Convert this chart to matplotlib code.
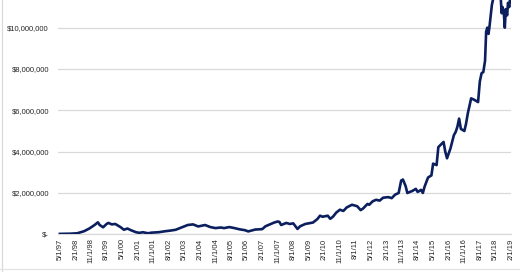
import matplotlib
matplotlib.use("Agg")
import matplotlib.pyplot as plt
import matplotlib.ticker as mticker
from matplotlib.lines import Line2D
import pandas as pd

# ---- data (portfolio value, $ millions) ----
dates = [
    "1997-05-01", "1997-11-01", "1998-03-01", "1998-07-01", "1998-10-01",
    "1999-01-01", "1999-03-01", "1999-04-01", "1999-06-01", "1999-08-01",
    "1999-09-01", "1999-11-01", "2000-01-01", "2000-04-01", "2000-06-01",
    "2000-08-01", "2000-10-01", "2001-01-01", "2001-03-01", "2001-05-01",
    "2001-08-01", "2001-10-01", "2002-02-01", "2002-06-01", "2002-09-01",
    "2002-12-01", "2003-04-01", "2003-07-01", "2003-10-01", "2004-01-01",
    "2004-05-01", "2004-08-01", "2004-11-01", "2005-02-01", "2005-04-01",
    "2005-07-01", "2005-10-01", "2006-01-01", "2006-04-01", "2006-06-01",
    "2006-10-01", "2007-02-01", "2007-04-01", "2007-07-01", "2007-09-01",
    "2007-11-01", "2007-12-01", "2008-01-01", "2008-04-01", "2008-06-01",
    "2008-08-01", "2008-09-01", "2008-10-15", "2008-12-01", "2009-03-01",
    "2009-06-01", "2009-07-15", "2009-10-01", "2009-11-15", "2010-01-01",
    "2010-04-01", "2010-05-15", "2010-07-01", "2010-09-01", "2010-11-01",
    "2011-01-01", "2011-03-01", "2011-06-01", "2011-09-01", "2011-11-01",
    "2011-12-15", "2012-03-01", "2012-04-01", "2012-06-01", "2012-08-01",
    "2012-10-01", "2012-12-01", "2013-03-01", "2013-05-01", "2013-07-01",
    "2013-09-01", "2013-10-15", "2013-11-15", "2014-01-01", "2014-02-01",
    "2014-05-01", "2014-07-01", "2014-08-01", "2014-10-01", "2014-11-01",
    "2014-12-01", "2015-02-01", "2015-04-01", "2015-05-01", "2015-07-01",
    "2015-08-01", "2015-11-01", "2015-12-01", "2016-01-01", "2016-03-01",
    "2016-05-01", "2016-06-01", "2016-07-01", "2016-08-01", "2016-09-01",
    "2016-11-01", "2016-12-01", "2017-01-01", "2017-03-01", "2017-05-01",
    "2017-07-01", "2017-08-01", "2017-09-01", "2017-10-01", "2017-11-01",
    "2017-11-20", "2017-12-10", "2018-01-01", "2018-01-20", "2018-03-01",
    "2018-04-01", "2018-06-01", "2018-08-01", "2018-08-20", "2018-09-05",
    "2018-09-30", "2018-10-15", "2018-11-01", "2018-11-25", "2018-12-10",
    "2019-01-01", "2019-01-20",
]
values_m = [
    0.02, 0.03, 0.05, 0.15, 0.28,
    0.45, 0.58, 0.45, 0.34, 0.50,
    0.55, 0.48, 0.50, 0.35, 0.22,
    0.28, 0.20, 0.10, 0.07, 0.10,
    0.05, 0.08, 0.10, 0.15, 0.18,
    0.22, 0.35, 0.45, 0.48, 0.38,
    0.45, 0.35, 0.30, 0.33, 0.30,
    0.35, 0.30, 0.24, 0.20, 0.14,
    0.23, 0.25, 0.39, 0.50, 0.57,
    0.62, 0.60, 0.45, 0.55, 0.50,
    0.53, 0.42, 0.26, 0.39, 0.50,
    0.55, 0.57, 0.74, 0.90, 0.85,
    0.90, 0.75, 0.85, 1.06, 1.19,
    1.13, 1.30, 1.43, 1.36, 1.17,
    1.25, 1.47, 1.43, 1.60, 1.67,
    1.63, 1.77, 1.80, 1.75, 1.92,
    2.00, 2.60, 2.65, 2.34, 2.00,
    2.10, 2.20, 2.05, 2.15, 2.00,
    2.30, 2.75, 2.85, 3.42, 3.35,
    4.22, 4.47, 4.00, 3.68, 4.15,
    4.80, 4.95, 5.20, 5.60, 5.10,
    5.00, 5.35, 5.85, 6.58, 6.50,
    6.40, 7.40, 7.80, 7.85, 8.40,
    9.80, 10.00, 9.70, 10.10, 11.10,
    11.50, 12.00, 11.60, 10.70, 11.00,
    10.60, 10.00, 10.90, 10.60, 11.20,
    11.00, 11.50,
]
tick_labels = [
    "5/1/97", "2/1/98", "11/1/98", "8/1/99", "5/1/00", "2/1/01", "11/1/01",
    "8/1/02", "5/1/03", "2/1/04", "11/1/04", "8/1/05", "5/1/06", "2/1/07",
    "11/1/07", "8/1/08", "5/1/09", "2/1/10", "11/1/10", "8/1/11", "5/1/12",
    "2/1/13", "11/1/13", "8/1/14", "5/1/15", "2/1/16", "11/1/16", "8/1/17",
    "5/1/18", "2/1/19",
]
y_ticks = [0, 2_000_000, 4_000_000, 6_000_000, 8_000_000, 10_000_000]

x = pd.to_datetime(dates)
y = [v * 1_000_000 for v in values_m]
tick_pos = pd.to_datetime(tick_labels, format="%m/%d/%y")

plt.rcParams["font.family"] = ["Liberation Sans", "DejaVu Sans"]

fig = plt.figure(figsize=(5.2, 2.72), dpi=100)
ax = fig.add_axes([58 / 520, 1 - 234.3 / 272, (511 - 58) / 520, 234.3 / 272])

ax.plot(x, y, color="#0B1F5E", lw=1.9, solid_joinstyle="round", zorder=3)

ax.set_xlim(pd.Timestamp("1997-03-28"), pd.Timestamp("2019-02-01"))
ax.set_ylim(0, 11_340_000)

ax.set_yticks(y_ticks)
ax.yaxis.set_major_formatter(
    mticker.FuncFormatter(lambda v, p: "$-" if v == 0 else f"${v:,.0f}")
)
ax.set_xticks(tick_pos)
ax.set_xticklabels(tick_labels, rotation=90, va="top", ha="center")

ax.grid(axis="y", color="#D9D9D9", lw=0.9, zorder=0)
ax.grid(axis="x", visible=False)
for s in ["top", "right", "left"]:
    ax.spines[s].set_visible(False)
ax.spines["bottom"].set_color("#D9D9D9")
ax.spines["bottom"].set_linewidth(0.9)
ax.tick_params(axis="both", length=0, labelsize=5.5, colors="#262626")
ax.tick_params(axis="y", pad=6.5)
ax.tick_params(axis="x", pad=3)

# outer chart border (left & bottom edges visible in crop)
fig.add_artist(Line2D([1.5 / 520, 1.5 / 520], [0, 1], color="#D9D9D9", lw=0.9,
                      transform=fig.transFigure))
fig.add_artist(Line2D([0, 1], [3 / 272, 3 / 272], color="#E3E3E3", lw=0.9,
                      transform=fig.transFigure))

fig.savefig("out.png", dpi=100)
